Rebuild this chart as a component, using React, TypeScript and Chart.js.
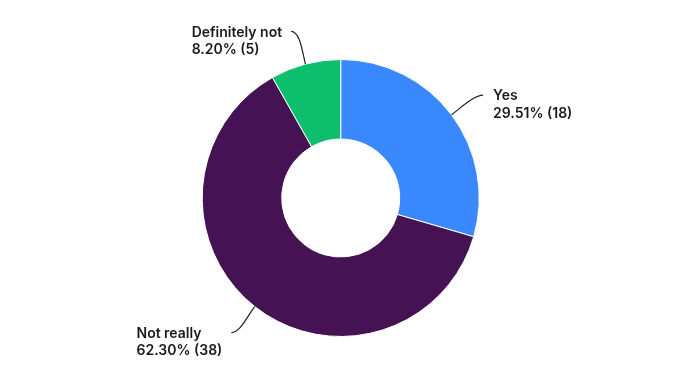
import React, { useEffect, useRef } from "react";
import { Chart, registerables } from "chart.js";

Chart.register(...registerables);

const categories = ["Yes", "Not really", "Definitely not"];
const counts = [18, 38, 5];
const percentLabels = ["29.51%", "62.30%", "8.20%"];
const colors = ["#3a88fd", "#451353", "#0dbf6d"];

// label layout: offset of leader end from the slice's outer midpoint, and side
const labelLayout = [
  { dx: 31.6, dy: -19.7, side: "right" },
  { dx: -23.4, dy: 26, side: "left" },
  { dx: -14.3, dy: -32.6, side: "left" },
];

const FONT = "600 14px Inter, Lato, sans-serif";

const leaderPlugin = {
  id: "leaders",
  afterDraw(chart: any) {
    const ctx = chart.ctx as CanvasRenderingContext2D;
    const meta = chart.getDatasetMeta(0);
    meta.data.forEach((arc: any, i: number) => {
      const p = arc.getProps(["x", "y", "startAngle", "endAngle", "outerRadius"], true);
      const mid = (p.startAngle + p.endAngle) / 2;
      const r = p.outerRadius;
      const sx = p.x + Math.cos(mid) * r;
      const sy = p.y + Math.sin(mid) * r;
      const lay = labelLayout[i];
      const ex = sx + lay.dx;
      const ey = sy + lay.dy;
      const dir = lay.side === "right" ? 1 : -1;
      ctx.save();
      ctx.strokeStyle = "#222";
      ctx.lineWidth = 1.2;
      ctx.beginPath();
      ctx.moveTo(sx, sy);
      ctx.bezierCurveTo(
        sx + Math.cos(mid) * 12,
        sy + Math.sin(mid) * 12,
        ex - dir * 9,
        ey,
        ex,
        ey
      );
      ctx.stroke();

      ctx.font = FONT;
      ctx.fillStyle = "#1a1a1a";
      ctx.textBaseline = "middle";
      ctx.textAlign = "left";
      const lines = [categories[i], `${percentLabels[i]} (${counts[i]})`];
      const w = Math.max(...lines.map((l) => ctx.measureText(l).width));
      const tx = lay.side === "right" ? ex + 10 : ex - 9 - w;
      lines.forEach((l, k) => ctx.fillText(l, tx, ey + 1 + k * 17.5));
      ctx.restore();
    });
  },
};

export default function App() {
  const ref = useRef<HTMLCanvasElement>(null);
  useEffect(() => {
    document.body.style.margin = "0";
    const chart = new Chart(ref.current!, {
      type: "doughnut",
      data: {
        labels: categories,
        datasets: [
          {
            data: counts,
            backgroundColor: colors,
            borderColor: "#ffffff",
            borderWidth: 1,
            hoverOffset: 0,
          },
        ],
      },
      options: {
        animation: false,
        responsive: false,
        cutout: 59,
        layout: { padding: { top: 59, bottom: 55, left: 100, right: 108.6 } },
        plugins: {
          legend: { display: false },
          tooltip: { enabled: false },
        },
      },
      plugins: [leaderPlugin],
    });
    return () => chart.destroy();
  }, []);
  return (
    <div style={{ width: 690, height: 392 }}>
      <canvas ref={ref} width={690} height={392} style={{ display: "block" }} />
    </div>
  );
}
